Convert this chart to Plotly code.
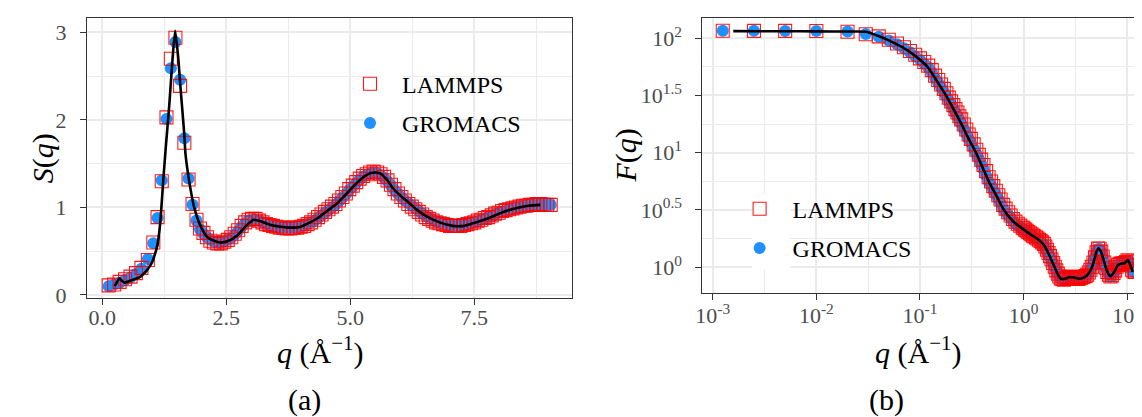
import plotly.graph_objects as go

# ---------------- data: panel (a) S(q) ----------------
q_s = [0.13, 0.24, 0.35, 0.46, 0.57, 0.68, 0.79, 0.92, 1.03, 1.115, 1.20, 1.295, 1.383, 1.475, 1.569,
       1.655, 1.74, 1.82, 1.90, 1.97,
       2.04, 2.11, 2.18, 2.25, 2.32, 2.39, 2.46, 2.53, 2.60, 2.67, 2.74, 2.81, 2.88, 2.95, 3.02, 3.09,
       3.16, 3.23, 3.30, 3.37, 3.44, 3.51, 3.58, 3.65, 3.72, 3.79, 3.86, 3.93, 4.00, 4.07, 4.14, 4.21,
       4.28, 4.35, 4.42, 4.49, 4.56, 4.63, 4.70, 4.77, 4.84, 4.91, 4.98, 5.05, 5.12, 5.19, 5.26, 5.33,
       5.40, 5.47, 5.54, 5.61, 5.68, 5.75, 5.82, 5.89, 5.96, 6.03, 6.10, 6.17, 6.24, 6.31, 6.38, 6.45,
       6.52, 6.59, 6.66, 6.73, 6.80, 6.87, 6.94, 7.01, 7.08, 7.15, 7.22, 7.29, 7.36, 7.43, 7.50, 7.57,
       7.64, 7.71, 7.78, 7.85, 7.92, 7.99, 8.06, 8.13, 8.20, 8.27, 8.34, 8.41, 8.48, 8.55, 8.62, 8.69,
       8.76, 8.83, 8.90, 8.97, 9.04]

s_gromacs = [0.10, 0.12, 0.14, 0.17, 0.20, 0.24, 0.30, 0.41, 0.59, 0.88, 1.31, 2.01, 2.59, 2.89, 2.46,
             1.79, 1.33, 1.03, 0.85, 0.75,
             0.70, 0.66, 0.63, 0.61, 0.60, 0.60, 0.61, 0.63, 0.65, 0.69, 0.73, 0.78, 0.82, 0.85, 0.86, 0.86,
             0.85, 0.83, 0.81, 0.80, 0.79, 0.78, 0.78, 0.77, 0.77, 0.77, 0.77, 0.78, 0.78, 0.79, 0.81, 0.83,
             0.85, 0.88, 0.91, 0.94, 0.97, 1.00, 1.03, 1.07, 1.11, 1.15, 1.20, 1.24, 1.28, 1.32, 1.35, 1.37,
             1.39, 1.40, 1.39, 1.37, 1.34, 1.30, 1.25, 1.20, 1.16, 1.12, 1.08, 1.05, 1.02, 0.99, 0.96, 0.93,
             0.90, 0.88, 0.86, 0.84, 0.83, 0.82, 0.81, 0.80, 0.79, 0.79, 0.80, 0.80, 0.81, 0.82, 0.83, 0.84,
             0.86, 0.87, 0.89, 0.90, 0.92, 0.94, 0.95, 0.96, 0.97, 0.98, 0.99, 1.00, 1.01, 1.02, 1.02, 1.03,
             1.03, 1.03, 1.03, 1.03, 1.03]

s_lammps = [0.11, 0.12, 0.15, 0.18, 0.21, 0.25, 0.31, 0.40, 0.60, 0.89, 1.30, 2.03, 2.70, 2.94, 2.39,
            1.74, 1.32, 1.04, 0.86, 0.76,
            0.71, 0.66, 0.62, 0.60, 0.59, 0.59, 0.61, 0.63, 0.66, 0.70, 0.74, 0.79, 0.83, 0.86, 0.87, 0.87,
            0.85, 0.83, 0.81, 0.80, 0.79, 0.78, 0.77, 0.77, 0.76, 0.76, 0.77, 0.77, 0.78, 0.79, 0.81, 0.83,
            0.86, 0.89, 0.92, 0.95, 0.98, 1.01, 1.04, 1.08, 1.12, 1.16, 1.21, 1.25, 1.29, 1.33, 1.36, 1.38,
            1.40, 1.41, 1.40, 1.38, 1.35, 1.31, 1.26, 1.21, 1.16, 1.12, 1.08, 1.04, 1.01, 0.98, 0.95, 0.92,
            0.89, 0.87, 0.85, 0.83, 0.82, 0.81, 0.80, 0.79, 0.79, 0.79, 0.79, 0.80, 0.81, 0.82, 0.83, 0.85,
            0.86, 0.88, 0.89, 0.91, 0.93, 0.94, 0.96, 0.97, 0.98, 0.99, 1.00, 1.01, 1.02, 1.02, 1.03, 1.03,
            1.04, 1.04, 1.03, 1.03, 1.03]

q_s_ref = [0.25, 0.30, 0.35, 0.40, 0.45, 0.55, 0.65, 0.75, 0.85, 0.91, 0.96, 1.01, 1.06, 1.11, 1.15,
           1.18, 1.23, 1.28, 1.35, 1.415, 1.47, 1.53, 1.58, 1.65, 1.68, 1.75, 1.85, 1.98, 2.12, 2.25,
           2.38, 2.55, 2.72, 2.90, 3.05, 3.20, 3.40, 3.60, 3.79, 4.00, 4.19, 4.35, 4.52, 4.70, 4.86,
           5.06, 5.25, 5.40, 5.50, 5.60, 5.75, 5.86, 6.00, 6.19, 6.35, 6.53, 6.80, 7.06, 7.30, 7.50,
           7.80, 8.00, 8.20, 8.40, 8.60, 8.83]
s_ref = [0.10, 0.15, 0.19, 0.16, 0.14, 0.16, 0.18, 0.20, 0.25, 0.29, 0.33, 0.38, 0.46, 0.565, 0.72,
         0.90, 1.31, 1.68, 2.16, 2.68, 3.02, 2.72, 2.35, 1.865, 1.60, 1.31, 1.01, 0.79, 0.66, 0.62,
         0.60, 0.62, 0.68, 0.79, 0.86, 0.84, 0.80, 0.78, 0.77, 0.78, 0.83, 0.88, 0.955, 1.03, 1.12,
         1.24, 1.34, 1.39, 1.40, 1.39, 1.31, 1.22, 1.14, 1.05, 0.97, 0.90, 0.83, 0.79, 0.79, 0.825,
         0.88, 0.93, 0.97, 1.00, 1.02, 1.03]

# ---------------- data: panel (b) F(q) ----------------
q_f = [0.00125, 0.0025, 0.005, 0.01, 0.02, 0.03, 0.04, 0.05, 0.06, 0.07, 0.08, 0.09, 0.10, 0.11, 0.12,
       0.13, 0.14, 0.15, 0.16, 0.17, 0.18, 0.19, 0.20, 0.21, 0.22, 0.23, 0.24, 0.25, 0.265, 0.28, 0.295,
       0.31, 0.33, 0.35, 0.37, 0.39, 0.41, 0.435, 0.46, 0.485, 0.51, 0.54, 0.57, 0.60, 0.635, 0.67, 0.71,
       0.75, 0.79, 0.835, 0.88, 0.93, 0.98, 1.0, 1.035, 1.07, 1.11, 1.15, 1.19, 1.23, 1.27, 1.32, 1.36,
       1.41, 1.46, 1.51, 1.57, 1.62, 1.68, 1.74, 1.80, 1.86, 1.93, 2.0, 2.07, 2.14, 2.21, 2.29, 2.37,
       2.45, 2.54, 2.63, 2.72, 2.82, 2.92, 3.02, 3.12, 3.23, 3.35, 3.46, 3.58, 3.71, 3.84, 3.97, 4.11,
       4.26, 4.41, 4.56, 4.72, 4.89, 5.06, 5.23, 5.42, 5.61, 5.80, 6.01, 6.22, 6.43, 6.66, 6.89, 7.13,
       7.38, 7.64, 7.91, 8.18, 8.47, 8.77, 9.07, 9.39, 9.72, 10.06, 10.41, 10.78, 11.15, 11.54, 11.9]

f_gromacs = [115.6, 115.6, 115.3, 115.1, 113.8, 108.4, 102.8, 95.1, 88.1, 81.3, 75.0, 69.2, 64.6, 59.6,
             55.6, 50.1, 44.7, 40.7, 37.2, 33.9, 30.9, 28.2, 26.3, 24.3, 22.4, 20.9, 19.3, 18.0, 16.2,
             14.6, 13.2, 12.2, 10.8, 9.77, 8.81, 7.94, 7.16, 6.31, 5.62, 5.19, 4.73, 4.32, 3.94, 3.63,
             3.24, 3.05, 2.85, 2.69, 2.51, 2.40, 2.32, 2.24, 2.16, 2.14, 2.09, 2.04, 2.00, 1.95, 1.91,
             1.86, 1.84, 1.80, 1.76, 1.72, 1.68, 1.62, 1.57, 1.48, 1.38, 1.30, 1.23, 1.15, 1.07, 1.00,
             0.933, 0.871, 0.822, 0.794, 0.794, 0.794, 0.794, 0.804, 0.813, 0.822, 0.822, 0.813, 0.813,
             0.804, 0.794, 0.794, 0.804, 0.813, 0.822, 0.832, 0.851, 0.891, 0.944, 1.00, 1.096, 1.216,
             1.349, 1.445, 1.445, 1.365, 1.230, 1.096, 0.989, 0.912, 0.861, 0.832, 0.851, 0.891, 0.933,
             1.00, 1.047, 1.067, 1.072, 1.076, 1.084, 1.109, 1.148, 1.122, 1.035, 0.944, 0.912, 0.912]

f_lammps = [115.8, 115.5, 115.4, 115.2, 113.5, 108.0, 103.5, 96.5, 89.5, 83.0, 77.0, 71.5, 66.5, 61.8,
            57.5, 52.5, 47.0, 43.0, 39.3, 36.0, 33.0, 30.2, 28.0, 26.0, 24.0, 22.4, 20.8, 19.5, 17.6,
            15.9, 14.4, 13.2, 11.8, 10.6, 9.6, 8.7, 7.8, 6.9, 6.1, 5.6, 5.1, 4.65, 4.25, 3.9,
            3.5, 3.25, 3.02, 2.83, 2.64, 2.50, 2.40, 2.31, 2.22, 2.19, 2.13, 2.08, 2.03, 1.98, 1.94,
            1.89, 1.86, 1.82, 1.78, 1.74, 1.70, 1.65, 1.60, 1.52, 1.42, 1.33, 1.25, 1.17, 1.09, 1.01,
            0.94, 0.88, 0.83, 0.80, 0.79, 0.78, 0.79, 0.80, 0.82, 0.83, 0.82, 0.81, 0.80,
            0.79, 0.79, 0.80, 0.81, 0.82, 0.83, 0.84, 0.86, 0.90, 0.95, 1.01, 1.10, 1.22,
            1.35, 1.46, 1.45, 1.37, 1.24, 1.10, 0.99, 0.91, 0.86, 0.83, 0.85, 0.89, 0.94,
            1.01, 1.05, 1.07, 1.08, 1.08, 1.09, 1.11, 1.15, 1.13, 1.04, 0.95, 0.92, 0.91]

q_f_ref = [0.00158, 0.005, 0.01, 0.02, 0.0302, 0.038, 0.0501, 0.0676, 0.0912, 0.118, 0.1445, 0.178,
           0.214, 0.251, 0.295, 0.347, 0.398, 0.461, 0.55, 0.646, 0.794, 1.0, 1.148, 1.349, 1.585,
           1.778, 1.995, 2.163, 2.291, 2.512, 2.80, 3.09, 3.49, 3.89, 4.20, 4.57, 4.86, 5.13, 5.31,
           5.56, 5.85, 6.31, 6.87, 7.24, 7.57, 8.15, 8.71, 9.44, 10.14, 10.7, 11.3]
f_ref = [114.8, 114.6, 114.3, 114.0, 113.5, 105.9, 95.5, 83.2, 69.2, 56.2, 42.7, 31.6,
         23.4, 17.8, 13.2, 10.0, 7.59, 5.62, 4.17, 3.16, 2.51, 2.14, 1.95, 1.78, 1.55,
         1.26, 1.0, 0.851, 0.794, 0.794, 0.822, 0.813, 0.794, 0.822, 0.871, 1.0, 1.202, 1.413, 1.462,
         1.38, 1.202, 0.955, 0.832, 0.871, 0.923, 1.047, 1.072, 1.084, 1.156, 1.047, 0.912]

# tick definitions
s_xticks = [0, 2.5, 5, 7.5]
s_xticktext = ["0.0", "2.5", "5.0", "7.5"]
s_yticks = [0, 1, 2, 3]
f_xticks = [1e-3, 1e-2, 1e-1, 1, 10]
f_xticktext = ["10<sup>-3</sup>", "10<sup>-2</sup>", "10<sup>-1</sup>", "10<sup>0</sup>", "10<sup>1</sup>"]
f_yticks = [1, 10 ** 0.5, 10, 10 ** 1.5, 100]
f_yticktext = ["10<sup>0</sup>", "10<sup>0.5</sup>", "10<sup>1</sup>", "10<sup>1.5</sup>", "10<sup>2</sup>"]

# ---------------- style ----------------
W, H = 1142, 417
FONT = "Liberation Serif"
BLUE = "#1E90FF"
RED = "rgba(255,0,0,0.9)"
GRID = "#EBEBEB"
DARK = "#333333"
TICKC = "#4D4D4D"


def px(x):
    return x / W


def py(y):
    return 1 - y / H


fig = go.Figure()

# panel (a)
fig.add_trace(go.Scatter(x=q_s, y=s_gromacs, mode="markers", name="GROMACS", legend="legend",
                         legendgroup="ga", legendrank=2,
                         marker=dict(symbol="circle", size=12, color=BLUE, line=dict(width=0)),
                         xaxis="x", yaxis="y"))
fig.add_trace(go.Scatter(x=q_s, y=s_lammps, mode="markers", name="LAMMPS", legend="legend",
                         legendgroup="la", legendrank=1,
                         marker=dict(symbol="square-open", size=13, color=RED, line=dict(width=1.1)),
                         xaxis="x", yaxis="y"))
fig.add_trace(go.Scatter(x=q_s_ref, y=s_ref, mode="lines", showlegend=False,
                         line=dict(color="black", width=2.6, shape="spline", smoothing=0.6),
                         xaxis="x", yaxis="y"))

# panel (b)
fig.add_trace(go.Scatter(x=q_f, y=f_gromacs, mode="markers", name="GROMACS", legend="legend2",
                         legendgroup="gb", legendrank=2,
                         marker=dict(symbol="circle", size=12, color=BLUE, line=dict(width=0)),
                         xaxis="x2", yaxis="y2"))
fig.add_trace(go.Scatter(x=q_f, y=f_lammps, mode="markers", name="LAMMPS", legend="legend2",
                         legendgroup="lb", legendrank=1,
                         marker=dict(symbol="square-open", size=13, color=RED, line=dict(width=1.1)),
                         xaxis="x2", yaxis="y2"))
fig.add_trace(go.Scatter(x=q_f_ref, y=f_ref, mode="lines", showlegend=False,
                         line=dict(color="black", width=2.6, shape="spline", smoothing=0.6),
                         xaxis="x2", yaxis="y2"))

axis_common = dict(showline=True, linecolor=DARK, linewidth=1.1, ticks="outside", ticklen=6,
                   tickwidth=1.2, tickcolor=DARK, showgrid=True, gridcolor=GRID, gridwidth=1.5,
                   zeroline=False, tickfont=dict(family=FONT, size=22, color=TICKC))

xa = (72.3, 560.0)
ya = (10.7, 297.0)
xb = (691.7, 1142.0)
yb = (10.7, 292.3)

fig.update_layout(
    width=W, height=H, margin=dict(l=0, r=0, t=0, b=0),
    paper_bgcolor="white", plot_bgcolor="white",
    font=dict(family=FONT),
    xaxis=dict(domain=[px(xa[0]), px(xa[1])], range=[-0.31, 9.46], tickmode="array",
               tickvals=s_xticks, ticktext=s_xticktext, mirror=True, anchor="y",
               ticklabelstandoff=-6,
               minor=dict(tickvals=[1.25, 3.75, 6.25, 8.75], showgrid=True, gridcolor=GRID,
                          gridwidth=1.1, ticks=""), **axis_common),
    yaxis=dict(domain=[py(ya[1]), py(ya[0])], range=[-0.033, 3.16], tickmode="array",
               tickvals=s_yticks, mirror=True, anchor="x", ticklabelstandoff=9,
               minor=dict(tickvals=[0.5, 1.5, 2.5], showgrid=True, gridcolor=GRID, gridwidth=1.1,
                          ticks=""), **axis_common),
    xaxis2=dict(type="log", domain=[px(xb[0]), px(xb[1])], range=[-3.099, 1.22], tickmode="array",
                tickvals=f_xticks, ticktext=f_xticktext, mirror=True, anchor="y2",
                ticklabelstandoff=-4,
                minor=dict(tickvals=[10 ** -2.5, 10 ** -1.5, 10 ** -0.5, 10 ** 0.5], showgrid=True,
                           gridcolor=GRID, gridwidth=1.1, ticks=""), **axis_common),
    yaxis2=dict(type="log", domain=[py(yb[1]), py(yb[0])], range=[-0.227, 2.171], tickmode="array",
                tickvals=f_yticks, ticktext=f_yticktext, mirror=False, anchor="x2", ticklabelstandoff=9,
                minor=dict(tickvals=[10 ** 0.25, 10 ** 0.75, 10 ** 1.25, 10 ** 1.75], showgrid=True,
                           gridcolor=GRID, gridwidth=1.1, ticks=""), **axis_common),
    legend=dict(x=px(325), y=py(55), xanchor="left", yanchor="top", bgcolor="rgba(0,0,0,0)",
                font=dict(family=FONT, size=24, color="black"), traceorder="grouped",
                tracegroupgap=5, itemwidth=54),
    legend2=dict(x=px(716), y=py(183), xanchor="left", yanchor="top", bgcolor="rgba(0,0,0,0)",
                 font=dict(family=FONT, size=24, color="black"), traceorder="grouped",
                 tracegroupgap=5, itemwidth=56),
    showlegend=True,
)


# white legend-key backgrounds (ggplot legend.key); these areas hold no data
def dom(v, lo, hi):
    return (v - lo) / (hi - lo)


fig.add_shape(type="rect", xref="x domain", yref="y domain", layer="above",
              x0=dom(351, *xa), x1=dom(390, *xa), y0=1 - dom(141, *ya), y1=1 - dom(64, *ya),
              fillcolor="white", line=dict(width=0))
fig.add_shape(type="rect", xref="x2 domain", yref="y2 domain", layer="above",
              x0=dom(741.7, *xb), x1=dom(780, *xb), y0=1 - dom(268, *yb), y1=1 - dom(191, *yb),
              fillcolor="white", line=dict(width=0))

title_font = dict(family=FONT, size=30, color="black")
ann = [
    dict(text="<i>q</i> (Å<sup>−1</sup>)", x=px(307), y=py(351), xanchor="center", yanchor="middle"),
    dict(text="<i>q</i> (Å<sup>−1</sup>)", x=px(909), y=py(351), xanchor="center", yanchor="middle"),
    dict(text="<i>S</i>(<i>q</i>)", x=px(28), y=py(154), xanchor="center", yanchor="middle", textangle=-90),
    dict(text="<i>F</i>(<i>q</i>)", x=px(615), y=py(151), xanchor="center", yanchor="middle", textangle=-90),
    dict(text="(a)", x=px(291), y=py(402), xanchor="center", yanchor="middle"),
    dict(text="(b)", x=px(877), y=py(402), xanchor="center", yanchor="middle"),
]
for a in ann:
    fig.add_annotation(xref="paper", yref="paper", showarrow=False, font=title_font, **a)

fig.write_html("out.html")
